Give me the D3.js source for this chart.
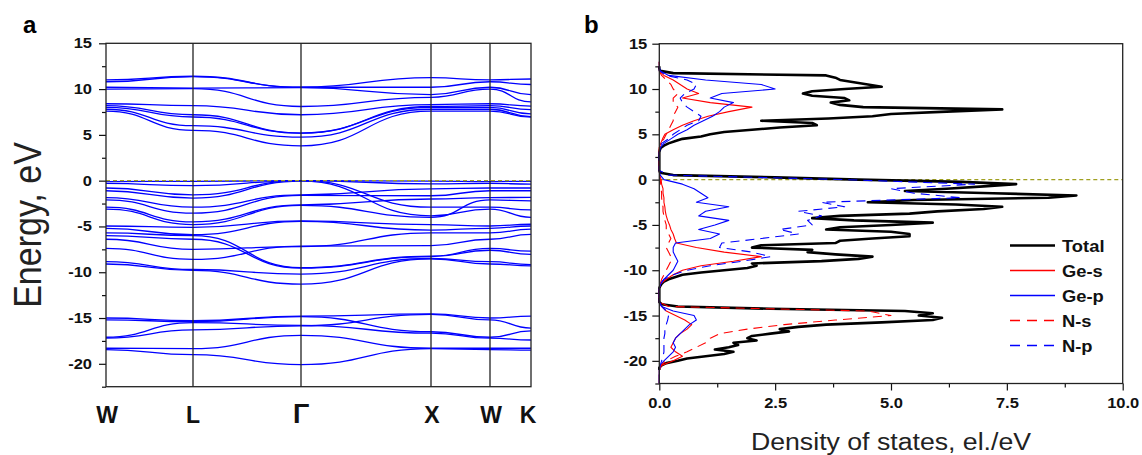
<!DOCTYPE html>
<html>
<head>
<meta charset="utf-8">
<script src="https://cdn.jsdelivr.net/npm/d3@7"></script>
<style>
  body { margin: 0; background: #fff; }
  text { font-family: "Liberation Sans", Arial, sans-serif; }
</style>
</head>
<body>
<svg width="1142" height="455"></svg>
<script>
// ---- band structure data (energies in eV at W, L, Gamma, X, W, K) ----
var kLabels = ['W', 'L', '\u0393', 'X', 'W', 'K'];
var kPos = [0, 0.87, 1.95, 3.25, 3.84, 4.25];

var condBands = [
  [11.0, 11.4, 10.2, 11.25, 11.0, 11.1],
  [10.8, 11.35, 10.2, 10.2, 10.8, 10.5],
  [10.2, 10.1, 10.15, 9.4, 10.2, 9.4],
  [10.0, 10.05, 8.1, 9.1, 10.0, 8.6],
  [8.4, 8.2, 7.2, 8.3, 8.4, 8.15],
  [8.2, 7.2, 5.2, 8.1, 8.2, 7.75],
  [8.0, 6.95, 5.2, 8.0, 8.0, 7.3],
  [7.8, 6.0, 4.75, 7.8, 7.8, 7.0],
  [7.6, 5.5, 3.8, 7.6, 7.6, 6.95]
];

var valBands = [
  [-0.1, -0.07, 0.0, -0.05, -0.1, -0.07],
  [-0.3, -0.55, 0.0, -0.35, -0.3, -0.37],
  [-0.8, -1.55, 0.0, -2.9, -2.9, -3.2],
  [-1.1, -1.9, -0.05, -3.85, -3.1, -4.0],
  [-1.85, -2.9, -1.55, -0.9, -0.8, -0.8],
  [-2.1, -3.55, -1.6, -1.65, -1.1, -1.1],
  [-2.9, -4.5, -2.65, -2.0, -1.85, -1.83],
  [-3.1, -4.8, -2.7, -4.0, -2.1, -2.2],
  [-4.95, -5.1, -4.4, -4.8, -4.95, -4.76],
  [-5.2, -5.9, -4.45, -5.4, -5.2, -4.95],
  [-5.7, -6.0, -9.5, -8.25, -7.4, -7.7],
  [-6.0, -6.4, -9.55, -8.3, -7.6, -8.06],
  [-7.4, -8.6, -7.15, -7.1, -6.4, -5.86],
  [-6.4, -7.5, -7.2, -5.7, -5.7, -5.3],
  [-8.85, -9.7, -10.2, -8.5, -8.85, -9.16],
  [-9.1, -9.8, -11.3, -8.55, -9.1, -9.3]
];

var lowBands = [
  [-15.0, -15.3, -14.8, -14.55, -15.0, -14.8],
  [-15.2, -15.4, -14.85, -16.5, -17.1, -16.4],
  [-17.1, -15.5, -15.8, -16.65, -17.2, -17.4],
  [-17.2, -16.3, -15.85, -14.6, -15.2, -16.1],
  [-18.3, -18.35, -16.9, -18.3, -18.3, -18.3],
  [-18.45, -19.0, -20.1, -18.35, -18.45, -18.5]
];

// ---- density of states ----
// total DOS on a 0.25 eV grid from -21 to 12.5 eV
var totalStart = -21, totalStep = 0.25;
var totalDos = [
  0, 0, 0.05, 0.15,   0.4, 0.6, 1.0, 1.4,   1.6, 1.2, 1.5, 1.7,   1.6, 2.1, 1.9, 2.0,
  2.4, 2.8, 2.6, 3.0,   3.6, 4.8, 5.9, 6.1,   5.6, 5.9, 5.3, 2.4,   0.4, 0.05, 0, 0,
  0, 0, 0, 0,   0, 0.02, 0.05, 0.1,   0.2, 0.35, 0.5, 0.9,   1.4, 1.9, 2.1, 2.0,
  3.5, 4.3, 4.6, 3.8,   3.2, 3.3, 2.0, 2.2,   3.8, 3.9, 4.6, 5.4,   5.4, 5.0, 3.6, 3.9,
  5.0, 5.9, 4.2, 3.3,   3.9, 5.4, 6.0, 7.0,   7.4, 6.4, 4.5, 5.5,   8.4, 9.0, 7.2, 5.3,
  6.2, 7.0, 7.7, 6.5,   4.3, 2.5, 0.3, 0.02,   0, 0, 0, 0,   0, 0, 0, 0,
  0, 0.01, 0.03, 0.1,   0.2, 0.35, 0.5, 0.9,   1.1, 1.4, 2.0, 2.6,   3.4, 3.3, 2.2, 3.65,
  4.6, 5.0, 6.2, 7.4,   4.4, 3.9, 3.7, 4.1,   4.0, 3.3, 3.1, 3.3,   4.0, 4.8, 4.5, 4.2,
  3.9, 3.8, 3.6, 0.3,   0.02, 0, 0
];

// partial DOS on a 0.5 eV grid from -22.5 to 13 eV
var pdosStart = -22.5, pdosStep = 0.5;
var geS = [
  0, 0, 0, 0, 0.05, 0.3, 0.5, 0.35, 0.25, 0.3, 0.35, 0.45, 0.6, 0.7, 0.55, 0.35,
  0.15, 0.05, 0, 0, 0, 0, 0.03, 0.15, 0.3, 0.5, 0.9, 1.6, 2.2, 1.4, 0.8, 0.37,
  0.33, 0.3, 0.25, 0.22, 0.18, 0.15, 0.13, 0.12, 0.1, 0.1, 0.08, 0.08, 0.05, 0.04, 0.01, 0,
  0, 0, 0, 0, 0, 0.03, 0.07, 0.12, 0.3, 0.5, 0.75, 1.05, 1.5, 2.0, 1.1, 0.5,
  0.85, 0.6, 0.45, 0.3, 0.1, 0, 0, 0
];
var geP = [
  0, 0, 0, 0, 0.02, 0.1, 0.2, 0.3, 0.35, 0.3, 0.35, 0.45, 0.55, 0.65, 0.8, 0.75,
  0.3, 0.05, 0, 0, 0, 0, 0.03, 0.1, 0.2, 0.3, 0.35, 0.4, 0.35, 0.3, 0.3, 0.35,
  1.1, 1.3, 0.85, 1.2, 1.5, 0.85, 1.0, 1.5, 0.8, 1.05, 0.9, 0.75, 0.5, 0.1, 0.02, 0,
  0, 0, 0, 0, 0.02, 0.1, 0.25, 0.4, 0.6, 0.75, 0.95, 1.15, 1.3, 1.4, 1.6, 1.1,
  1.35, 2.5, 2.2, 1.0, 0.2, 0.02, 0, 0
];
var nS = [
  0, 0, 0, 0, 0.03, 0.15, 0.35, 0.6, 0.8, 1.0, 1.1, 1.3, 1.9, 2.7, 3.8, 5.0,
  4.5, 0.2, 0, 0, 0, 0, 0.02, 0.05, 0.1, 0.15, 0.2, 0.25, 0.25, 0.2, 0.15, 0.2,
  0.25, 0.2, 0.15, 0.15, 0.12, 0.1, 0.08, 0.08, 0.06, 0.05, 0.05, 0.04, 0.03, 0.02, 0, 0,
  0, 0, 0, 0, 0, 0.02, 0.1, 0.15, 0.2, 0.25, 0.3, 0.3, 0.35, 0.4, 0.3, 0.3,
  0.4, 0.3, 0.25, 0.15, 0.05, 0, 0, 0
];
var nP = [
  0, 0, 0, 0, 0.02, 0.05, 0.08, 0.1, 0.1, 0.1, 0.1, 0.12, 0.12, 0.15, 0.18, 0.2,
  0.15, 0.05, 0, 0, 0, 0, 0.02, 0.1, 0.3, 0.6, 1.1, 1.8, 2.4, 2.0, 1.3, 1.35,
  2.2, 3.0, 2.6, 3.3, 3.2, 3.5, 3.0, 4.0, 3.5, 6.5, 5.5, 5.0, 6.8, 4.0, 0.2, 0,
  0, 0, 0, 0, 0.02, 0.05, 0.2, 0.3, 0.45, 0.6, 0.85, 0.9, 0.75, 0.6, 0.5, 0.45,
  0.55, 0.75, 0.8, 0.6, 0.15, 0, 0, 0
];

var legendNames = ['Total', 'Ge-s', 'Ge-p', 'N-s', 'N-p'];
var energyTicks = [-20, -15, -10, -5, 0, 5, 10, 15];
var dosTicks = [0, 2.5, 5, 7.5, 10];

var svg = d3.select('svg');
var SX = 1.18;   // the picture's text is a little wider than tall

function stretch(sel, s) {
  sel.each(function () {
    var t = d3.select(this);
    var x = +t.attr('x') || 0, y = +t.attr('y') || 0;
    t.attr('x', null).attr('y', null)
     .attr('transform', 'translate(' + x + ',' + y + ') scale(' + s + ',1)');
  });
}

function styleAxis(g) {
  g.select('.domain').remove();
  g.selectAll('line').attr('stroke', '#111').attr('stroke-width', 1.2);
  g.selectAll('text').attr('font-size', 14).attr('font-weight', 'bold')
   .attr('font-family', '"Liberation Sans", Arial, sans-serif').attr('fill', '#111');
}

// ================= panel a : band structure =================
var xa = d3.scaleLinear().domain([0, 4.25]).range([106, 531]);
var ya = d3.scaleLinear().domain([-22.5, 15]).range([386.7, 43.3]);

var ga = svg.append('g');

var yAxisA = ga.append('g').attr('transform', 'translate(106,0)')
  .call(d3.axisLeft(ya).tickValues(energyTicks).tickSize(7).tickSizeOuter(0)
        .tickPadding(7).tickFormat(function (d) { return String(d); }));
styleAxis(yAxisA);
stretch(yAxisA.selectAll('text'), SX);
var yMinorA = ga.append('g').attr('transform', 'translate(106,0)')
  .call(d3.axisLeft(ya).tickValues(d3.range(-22.5, 15, 5)).tickSize(4).tickSizeOuter(0).tickFormat(''));
styleAxis(yMinorA);

var bandLine = d3.line()
  .x(function (d, i) { return xa(kPos[i]); })
  .y(function (d) { return ya(d); })
  .curve(d3.curveBumpX);

ga.append('g').selectAll('path')
  .data(condBands.concat(valBands, lowBands))
  .enter().append('path')
  .attr('d', bandLine)
  .attr('fill', 'none')
  .attr('stroke', '#0000ff')
  .attr('stroke-width', 1.3);

// fermi level
ga.append('line')
  .attr('x1', xa(0)).attr('x2', xa(4.25)).attr('y1', ya(0)).attr('y2', ya(0))
  .attr('stroke', '#a0a020').attr('stroke-width', 1.2).attr('stroke-dasharray', '4,3');

// high symmetry lines
ga.append('g').selectAll('line')
  .data(kPos.slice(1, 5))
  .enter().append('line')
  .attr('x1', function (d) { return xa(d); }).attr('x2', function (d) { return xa(d); })
  .attr('y1', ya(15)).attr('y2', ya(-22.5))
  .attr('stroke', '#222').attr('stroke-width', 1.3);

ga.append('rect')
  .attr('x', xa(0)).attr('y', ya(15))
  .attr('width', xa(4.25) - xa(0)).attr('height', ya(-22.5) - ya(15))
  .attr('fill', 'none').attr('stroke', '#222').attr('stroke-width', 1.3);

var kShift = [1, 0, 0, 1, 1, -3];
ga.append('g').selectAll('text')
  .data(kLabels)
  .enter().append('text')
  .attr('x', function (d, i) { return xa(kPos[i]) + kShift[i]; })
  .attr('y', 423)
  .attr('text-anchor', 'middle')
  .attr('font-size', function (d) { return d === '\u0393' ? 27 : 23; })
  .attr('font-weight', 'bold')
  .attr('font-family', function (d) { return d === '\u0393' ? '"Liberation Serif", "Times New Roman", serif' : null; })
  .attr('fill', '#111')
  .text(function (d) { return d; });

ga.append('text')
  .attr('transform', 'translate(41,225) scale(1.15,1) rotate(-90)')
  .attr('text-anchor', 'middle')
  .attr('font-size', 34)
  .attr('fill', '#222')
  .text('Energy, eV');

svg.append('text').attr('x', 23).attr('y', 33)
  .attr('font-size', 24).attr('font-weight', 'bold').text('a');
svg.append('text').attr('x', 584).attr('y', 33)
  .attr('font-size', 24).attr('font-weight', 'bold').text('b');

// ================= panel b : density of states =================
var xb = d3.scaleLinear().domain([0, 10]).range([659.3, 1122.7]);
var yb = d3.scaleLinear().domain([-22.5, 15]).range([383.5, 43.7]);

var gb = svg.append('g');

var yAxisB = gb.append('g').attr('transform', 'translate(659.3,0)')
  .call(d3.axisLeft(yb).tickValues(energyTicks).tickSize(7).tickSizeOuter(0)
        .tickPadding(5).tickFormat(function (d) { return String(d); }));
styleAxis(yAxisB);
stretch(yAxisB.selectAll('text'), SX);
var yMinorB = gb.append('g').attr('transform', 'translate(659.3,0)')
  .call(d3.axisLeft(yb).tickValues(d3.range(-22.5, 15, 5)).tickSize(4).tickSizeOuter(0).tickFormat(''));
styleAxis(yMinorB);

var xAxisB = gb.append('g').attr('transform', 'translate(0,383.5)')
  .call(d3.axisBottom(xb).tickValues(dosTicks).tickSize(7).tickSizeOuter(0)
        .tickPadding(8).tickFormat(d3.format('.1f')));
styleAxis(xAxisB);
stretch(xAxisB.selectAll('text'), SX);
var xMinorB = gb.append('g').attr('transform', 'translate(0,383.5)')
  .call(d3.axisBottom(xb).tickValues([1.25, 3.75, 6.25, 8.75]).tickSize(4).tickSizeOuter(0).tickFormat(''));
styleAxis(xMinorB);

function series(values, start, step) {
  return values.map(function (v, i) { return { e: start + i * step, v: v }; });
}
var dosLine = d3.line()
  .x(function (d) { return xb(d.v); })
  .y(function (d) { return yb(d.e); });

var dosSeries = [
  { name: 'Total', data: series(totalDos, totalStart, totalStep), color: '#000', width: 2.6, dash: null },
  { name: 'Ge-s', data: series(geS, pdosStart, pdosStep), color: '#ff0000', width: 1.1, dash: null },
  { name: 'Ge-p', data: series(geP, pdosStart, pdosStep), color: '#0000ff', width: 1.1, dash: null },
  { name: 'N-s', data: series(nS, pdosStart, pdosStep), color: '#ff0000', width: 1.1, dash: '9,6' },
  { name: 'N-p', data: series(nP, pdosStart, pdosStep), color: '#0000ff', width: 1.1, dash: '9,6' }
];

gb.append('line')
  .attr('x1', xb(0)).attr('x2', xb(10)).attr('y1', yb(0)).attr('y2', yb(0))
  .attr('stroke', '#a0a020').attr('stroke-width', 1.2).attr('stroke-dasharray', '4,3');

gb.append('g').selectAll('path')
  .data(dosSeries)
  .enter().append('path')
  .attr('d', function (d) { return dosLine(d.data); })
  .attr('fill', 'none')
  .attr('stroke', function (d) { return d.color; })
  .attr('stroke-width', function (d) { return d.width; })
  .attr('stroke-dasharray', function (d) { return d.dash; })
  .attr('stroke-linejoin', 'round');

gb.append('rect')
  .attr('x', xb(0)).attr('y', yb(15))
  .attr('width', xb(10) - xb(0)).attr('height', yb(-22.5) - yb(15))
  .attr('fill', 'none').attr('stroke', '#222').attr('stroke-width', 1.3);

gb.append('text')
  .attr('transform', 'translate(' + xb(5) + ',450) scale(1.16,1)')
  .attr('text-anchor', 'middle')
  .attr('font-size', 23)
  .attr('fill', '#222')
  .text('Density of states, el./eV');

// legend
var leg = gb.append('g').selectAll('g')
  .data(dosSeries)
  .enter().append('g')
  .attr('transform', function (d, i) { return 'translate(1010,' + (245.5 + i * 25) + ')'; });
leg.append('line')
  .attr('x1', 0).attr('x2', 45).attr('y1', 0).attr('y2', 0)
  .attr('stroke', function (d) { return d.color; })
  .attr('stroke-width', function (d) { return d.name === 'Total' ? 2.6 : 1.5; })
  .attr('stroke-dasharray', function (d) { return d.dash ? '10,7' : null; });
leg.append('text')
  .attr('transform', 'translate(52,6.5) scale(1.08,1)')
  .attr('font-size', 17)
  .attr('font-weight', 'bold')
  .attr('fill', '#111')
  .text(function (d, i) { return legendNames[i]; });
</script>
</body>
</html>
